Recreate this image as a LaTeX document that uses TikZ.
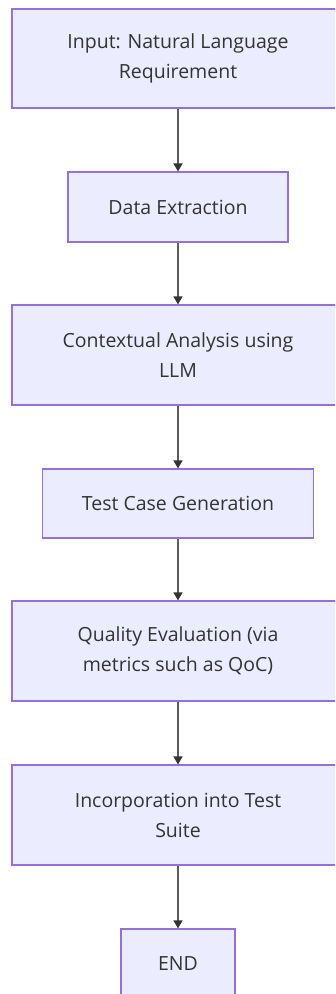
\documentclass[tikz,border=0pt]{standalone}
\usepackage{fontspec}
\setmainfont{Open Sans}
\usetikzlibrary{arrows.meta}
\definecolor{boxfill}{HTML}{ECECFF}
\definecolor{boxline}{HTML}{9370DB}
\definecolor{ink}{HTML}{333333}

\begin{document}
\begin{tikzpicture}
  [x=1pt,y=-1pt,every node/.style={draw=boxline,fill=boxfill,line width=1.2pt,text=ink,font=\fontsize{19.5}{30}\selectfont,align=center,inner sep=0pt}]
  \useasboundingbox (0,0) rectangle (335,994);
  \clip (0,0) rectangle (335,994);
  \node[minimum width=332pt,minimum height=99pt] (n1) at (178,58.5) {Input: Natural Language\\Requirement};
  \node[minimum width=220pt,minimum height=70pt] (n2) at (178,207) {Data Extraction};
  \node[minimum width=332pt,minimum height=100pt] (n3) at (178,355) {Contextual Analysis using\\LLM};
  \node[minimum width=271pt,minimum height=69pt] (n4) at (178,503.5) {Test Case Generation};
  \node[minimum width=332pt,minimum height=100pt] (n5) at (178,651) {Quality Evaluation (via\\metrics such as QoC)};
  \node[minimum width=332pt,minimum height=100pt] (n6) at (178,815) {Incorporation into Test\\Suite};
  \node[minimum width=114pt,minimum height=70pt] (n7) at (178,964) {END};

  \foreach \from/\to in {n1/n2,n2/n3,n3/n4,n4/n5,n5/n6,n6/n7}
    \draw[ink!80,line width=1.6pt,-{Triangle[length=8pt,width=9pt,color=ink]}] (\from) -- (\to);

\end{tikzpicture}
\end{document}
